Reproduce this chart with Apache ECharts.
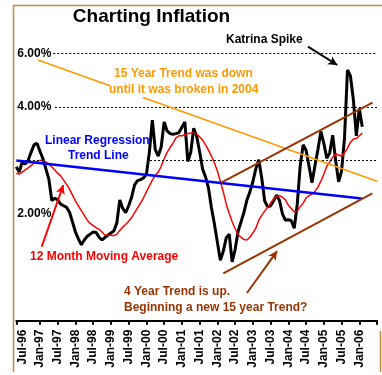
<!DOCTYPE html>
<html><head><meta charset="utf-8">
<script src="https://cdn.jsdelivr.net/npm/echarts@6/dist/echarts.min.js"></script>
<style>html,body{margin:0;padding:0;background:#fff}#c{width:382px;height:375px}</style>
</head><body><div id="c"></div>
<script>
// month index 0 = May-96
const xTickPos = [2,8,14,20,26,32,38,44,50,56,62,68,74,80,86,92,98,104,110,116];
const xTickLabels = ['Jul-96','Jan-97','Jul-97','Jan-98','Jul-98','Jan-99','Jul-99','Jan-00','Jul-00','Jan-01','Jul-01','Jan-02','Jul-02','Jan-03','Jul-03','Jan-04','Jul-04','Jan-05','Jul-05','Jan-06'];
const xTickMarks = [0,8,14,20,26,32,38,44,50,56,62,68,74,80,86,92,98,104,110,116,122];
const yTickValues = [2,4,5];
const yTickLabels = ['2.00%','4.00%','6.00%'];

const cpi = [2.88,2.78,2.97,2.93,3.00,3.15,3.29,3.32,3.17,3.03,2.84,2.65,2.25,2.29,2.26,2.18,2.15,2.12,2.03,1.85,
1.66,1.53,1.42,1.51,1.58,1.62,1.66,1.65,1.56,1.51,1.56,1.60,1.64,1.68,1.83,2.26,2.10,2.02,2.15,2.31,
2.54,2.62,2.64,2.67,2.74,3.15,3.75,3.20,3.08,3.25,3.72,3.55,3.50,3.49,3.50,3.52,3.62,3.72,2.98,3.15,
3.60,3.45,3.16,2.84,2.69,2.48,2.11,1.81,1.47,1.13,1.30,1.55,1.62,1.10,1.33,1.67,1.85,2.03,2.26,2.41,
2.60,2.84,3.01,2.67,2.24,2.13,2.15,2.24,2.35,2.25,2.00,1.88,1.89,1.87,1.73,2.17,2.89,3.29,3.19,2.89,
2.58,2.90,3.20,3.54,3.32,3.04,3.14,3.47,3.00,2.60,2.80,3.42,4.69,4.58,4.13,3.46,3.97,3.63];

const ma12 = [2.76,2.74,2.78,2.82,2.86,2.90,2.95,2.98,3.00,2.99,2.97,2.93,2.88,2.82,2.76,2.71,2.63,2.55,2.46,2.35,
2.24,2.15,2.06,1.97,1.88,1.82,1.78,1.74,1.71,1.66,1.60,1.60,1.60,1.59,1.62,1.69,1.75,1.80,1.86,1.93,
2.02,2.11,2.20,2.30,2.41,2.52,2.63,2.72,2.78,2.89,3.03,3.15,3.24,3.32,3.42,3.46,3.46,3.48,3.50,3.51,
3.51,3.49,3.44,3.38,3.29,3.19,3.08,2.95,2.80,2.61,2.41,2.18,2.01,1.85,1.72,1.61,1.56,1.52,1.51,1.56,
1.64,1.73,1.88,1.97,2.05,2.12,2.20,2.28,2.33,2.34,2.31,2.26,2.16,2.10,2.04,2.05,2.13,2.20,2.30,2.34,
2.37,2.42,2.50,2.61,2.74,2.89,2.97,3.06,3.12,3.10,3.08,3.14,3.23,3.34,3.40,3.41,3.46,3.51];

// annotation lines [[x1,y1],[x2,y2]] in month index / percent
const regressionLine = [[0,2.997],[116.8,2.286]];
const downTrendA = [[7.34,4.877],[31.7,4.395]];
const downTrendB = [[42.85,4.175],[122,2.609]];
const upChannelTop = [[69.46,2.589],[120.46,4.082]];
const upChannelBottom = [[70.0,0.887],[120.4,2.384]];
const arrowBrown = [[78.0,0.518],[88.2,1.303]];
const arrowRed = [[8.59,1.384],[15.9,2.539]];
const arrowKatrina = [[98.65,5.126],[108.55,4.784]];
const dottedLines = [[[12.5,5],[122,5]],[[13.1,4],[122,4]],[[0.2,3],[9.7,3]],[[45.2,3],[122,3]]];

const FONT = '"Liberation Sans", Arial, sans-serif';
function seg(pts, color, width, arrow, dash) {
  return [
    {coord: pts[0], symbol: 'none', lineStyle: {color: color, width: width, type: dash || 'solid'}},
    {coord: pts[1], symbol: arrow ? 'arrow' : 'none', symbolSize: arrow ? [7, 9] : 0, itemStyle: {color: color}}
  ];
}
const chart = echarts.init(document.getElementById('c'), null, {renderer: 'canvas'});
const texts = [
  ['Charting Inflation', 151.5, 17, '#000', 'bold 19px', 'center'],
  ['Katrina Spike', 226, 40, '#000', 'bold 12px', 'left'],
  ['15 Year Trend was down', 114, 73.5, '#ff9900', 'bold 12px', 'left'],
  ['until it was broken in 2004', 109, 89.5, '#ff9900', 'bold 12px', 'left'],
  ['Linear Regression', 45, 140.5, '#0000ff', 'bold 12px', 'left'],
  ['Trend Line', 68, 156, '#0000ff', 'bold 12px', 'left'],
  ['12 Month Moving Average', 30, 257, '#ff0000', 'bold 12px', 'left'],
  ['4 Year Trend is up.', 124, 292, '#993300', 'bold 12px', 'left'],
  ['Beginning a new 15 year Trend?', 124, 307.5, '#993300', 'bold 12px', 'left']
];
const frameColor = '#c8873e';
chart.setOption({
  animation: false,
  backgroundColor: '#fff',
  grid: {left: 16.3, right: 4.95, top: 0, bottom: 54.3, containLabel: false, outerBoundsMode: 'none'},
  xAxis: {
    type: 'value', min: 0, max: 122,
    axisLine: {show: true, onZero: false, lineStyle: {color: '#000', width: 2}},
    axisTick: {show: true, customValues: xTickMarks, length: 4, lineStyle: {color: '#000', width: 2}},
    axisLabel: {customValues: xTickPos, formatter: function (v) { return xTickLabels[xTickPos.indexOf(v)]; },
      rotate: 90, margin: 9, fontSize: 12, fontWeight: 'bold', fontFamily: FONT, color: '#000'},
    splitLine: {show: false}
  },
  yAxis: {
    type: 'value', min: 0, max: 6,
    axisLine: {show: false}, axisTick: {show: false}, splitLine: {show: false},
    axisLabel: {inside: true, customValues: yTickValues, formatter: function (v) { return yTickLabels[yTickValues.indexOf(v)]; },
      margin: 1, fontSize: 12, fontWeight: 'bold', fontFamily: FONT, color: '#000'}
  },
  series: [
    {type: 'line', name: 'gridlines', data: [], z: 1, clip: false, silent: true,
      markLine: {silent: true, animation: false, label: {show: false}, symbol: 'none',
        lineStyle: {color: '#000', width: 1, type: [2, 2]},
        data: dottedLines.map(function (p) { return [{coord: p[0]}, {coord: p[1]}]; })}},
    {type: 'line', name: 'CPI', data: cpi.map(function (v, i) { return [i, v]; }), showSymbol: false,
      lineStyle: {color: '#000', width: 3}, z: 2, silent: true},
    {type: 'line', name: '12 Month Moving Average', data: ma12.map(function (v, i) { return [i, v]; }), showSymbol: false,
      lineStyle: {color: '#ff0000', width: 1.5}, z: 3, silent: true},
    {type: 'line', name: 'notes', data: [], z: 4, clip: false, silent: true,
      markLine: {silent: true, animation: false, label: {show: false}, symbol: 'none',
        data: [
          seg(regressionLine, '#0000ff', 2.5, false),
          seg(downTrendA, '#ff9900', 1.6, false),
          seg(downTrendB, '#ff9900', 1.6, false),
          seg(upChannelTop, '#993300', 2, false),
          seg(upChannelBottom, '#993300', 2, false),
          seg(arrowBrown, '#993300', 2, true),
          seg(arrowRed, '#ff0000', 2, true),
          seg(arrowKatrina, '#000', 2, true)
        ]}}
  ],
  graphic: {elements: texts.map(function (t) {
    return {type: 'text', x: t[1], y: t[2], z: 100, silent: true,
      style: {text: t[0], fill: t[3], font: t[4] + ' ' + FONT, align: t[5], verticalAlign: 'middle'}};
  }).concat([
    {type: 'line', z: 100, silent: true, shape: {x1: 13.5, y1: 5.5, x2: 13.5, y2: 372}, style: {stroke: frameColor, lineWidth: 1.5}},
    {type: 'line', z: 100, silent: true, shape: {x1: 13, y1: 5.5, x2: 382, y2: 5.5}, style: {stroke: frameColor, lineWidth: 1.5}},
    {type: 'line', z: 100, silent: true, shape: {x1: 380.5, y1: 331, x2: 380.5, y2: 372}, style: {stroke: frameColor, lineWidth: 1.5}}
  ])}
});
</script></body></html>
